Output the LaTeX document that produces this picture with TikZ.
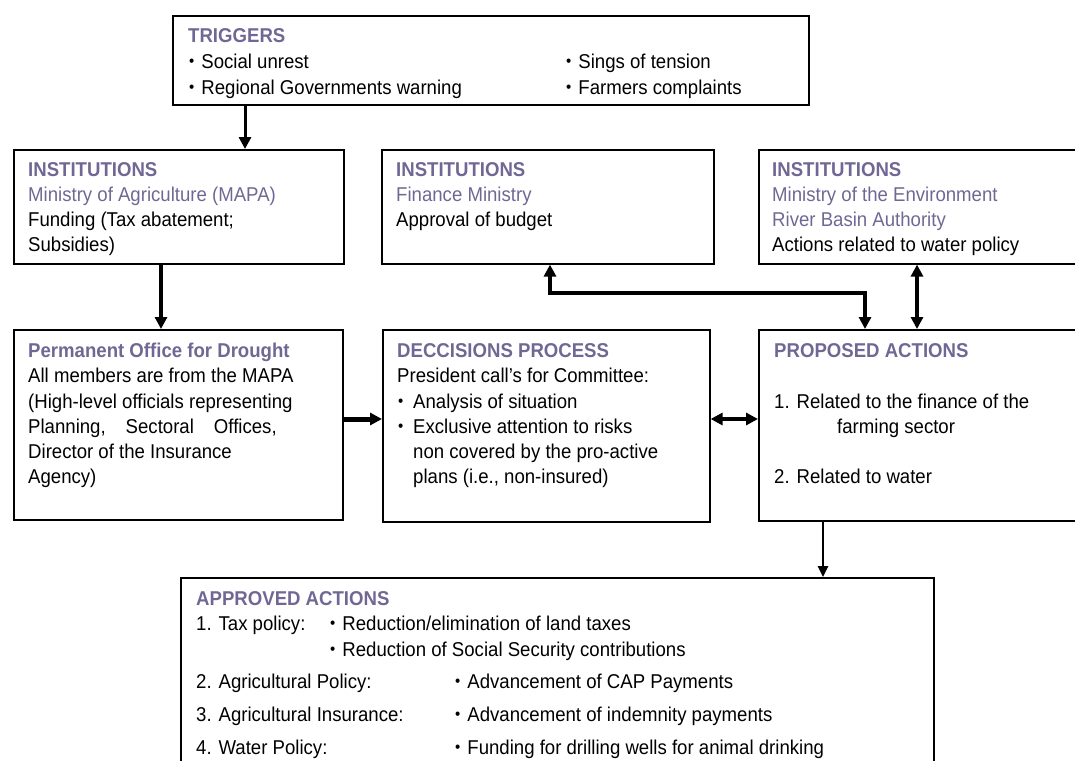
\documentclass[tikz,border=0pt]{standalone}
\usepackage{fontspec}
\setmainfont[FakeStretch=0.93]{Liberation Sans}
\usetikzlibrary{arrows.meta}
\definecolor{heading}{RGB}{113,103,148}
% small list bullet followed by its gap
\newcommand\bul{\raisebox{1.2pt}{\fontsize{16}{16}\selectfont •}\hspace{7pt}}
\begin{document}
\begin{tikzpicture}[x=1pt,y=-1pt,
  box/.style={draw=black, line width=1.6pt, anchor=north west, inner sep=0pt},
  txt/.style={anchor=base west, inner sep=0pt, font=\fontsize{20}{25}\selectfont},
  hd/.style={txt, text=heading, font=\fontsize{20}{25}\selectfont\bfseries},
  sub/.style={txt, text=heading},
  link/.style={line width=4pt, -{Triangle[length=12pt,width=12pt]}},
  twoway/.style={line width=4pt, {Triangle[length=12pt,width=12pt]}-{Triangle[length=12pt,width=12pt]}},
]
\useasboundingbox (0,0) rectangle (1075,760);
\clip (0,0) rectangle (1075,760);

% ---- boxes ----
\node[box, minimum width=636, minimum height=89]  (trig) at (172,15)  {};
\node[box, minimum width=330, minimum height=114] (mapa) at (13,149)  {};
\node[box, minimum width=332, minimum height=114] (fin)  at (381,149) {};
\node[box, minimum width=340, minimum height=114] (env)  at (758,149) {};
\node[box, minimum width=329, minimum height=190] (perm) at (13,329)  {};
\node[box, minimum width=327, minimum height=192] (dec)  at (382,329) {};
\node[box, minimum width=340, minimum height=191] (prop) at (758,329) {};
\node[box, minimum width=753, minimum height=200] (appr) at (180,577) {};

% ---- triggers ----
\node[hd]  (trig-h)  at (188,43) {TRIGGERS};
\node[txt] (trig-a)  at (189,68) {\bul Social unrest};
\node[txt] (trig-b)  at (189,94) {\bul Regional Governments warning};
\node[txt] (trig-c)  at (566,68) {\bul Sings of tension};
\node[txt] (trig-d)  at (566,94) {\bul Farmers complaints};

% ---- institutions ----
\node[hd]  (mapa-h) at (28,176)   {INSTITUTIONS};
\node[sub] (mapa-s) at (28,201)   {Ministry of Agriculture (MAPA)};
\node[txt] (mapa-a) at (28,226.5) {Funding (Tax abatement;};
\node[txt] (mapa-b) at (28,251.5) {Subsidies)};

\node[hd]  (fin-h) at (396,176)   {INSTITUTIONS};
\node[sub] (fin-s) at (396,201)   {Finance Ministry};
\node[txt] (fin-a) at (396,226.5) {Approval of budget};

\node[hd]  (env-h)  at (772,176)   {INSTITUTIONS};
\node[sub] (env-s1) at (772,201)   {Ministry of the Environment};
\node[sub] (env-s2) at (772,226.5) {River Basin Authority};
\node[txt] (env-a)  at (772,251.5) {Actions related to water policy};

% ---- permanent office ----
\node[hd]  (perm-h) at (28,357) {Permanent Office for Drought};
\node[txt] (perm-a) at (28,382) {All members are from the MAPA};
\node[txt] (perm-b) at (28,408) {(High-level officials representing};
\node[txt] (perm-c) at (28,433) {Planning,\quad Sectoral\quad Offices,};
\node[txt] (perm-d) at (28,458) {Director of the Insurance};
\node[txt] (perm-e) at (28,483) {Agency)};

% ---- decision process ----
\node[hd]  (dec-h)  at (397,357) {DECCISIONS PROCESS};
\node[txt] (dec-a)  at (397,382) {President call’s for Committee:};
\node[txt] (dec-b0) at (398,408) {\bul};
\node[txt] (dec-b)  at (413,408) {Analysis of situation};
\node[txt] (dec-c0) at (398,433) {\bul};
\node[txt] (dec-c)  at (413,433) {Exclusive attention to risks};
\node[txt] (dec-d)  at (413,458) {non covered by the pro-active};
\node[txt] (dec-e)  at (413,483) {plans (i.e., non-insured)};

% ---- proposed actions ----
\node[hd]  (prop-h) at (774,357) {PROPOSED ACTIONS};
\node[txt] (prop-a) at (774,408) {1. Related to the finance of the};
\node[txt] (prop-b) at (837,433) {farming sector};
\node[txt] (prop-c) at (774,483) {2. Related to water};

% ---- approved actions ----
\node[hd]  (appr-h)  at (196,605) {APPROVED ACTIONS};
\node[txt] (appr-1)  at (196,630) {1. Tax policy:};
\node[txt] (appr-1a) at (330,630) {\bul Reduction/elimination of land taxes};
\node[txt] (appr-1b) at (330,656) {\bul Reduction of Social Security contributions};
\node[txt] (appr-2)  at (196,688) {2. Agricultural Policy:};
\node[txt] (appr-2a) at (455,688) {\bul Advancement of CAP Payments};
\node[txt] (appr-3)  at (196,721) {3. Agricultural Insurance:};
\node[txt] (appr-3a) at (455,721) {\bul Advancement of indemnity payments};
\node[txt] (appr-4)  at (196,754) {4. Water Policy:};
\node[txt] (appr-4a) at (455,754) {\bul Funding for drilling wells for animal drinking};

% ---- connector guide lines ----
\coordinate (xa) at (245,0);
\coordinate (xb) at (161,0);
\coordinate (xc) at (550,0);
\coordinate (xd) at (865,0);
\coordinate (xe) at (917,0);
\coordinate (xf) at (823,0);
\coordinate (yr) at (0,419);
\coordinate (yh) at (0,293);

% ---- connectors ----
\draw[link, line width=3pt] (xa |- trig.south) -- (xa |- mapa.north);
\draw[link] (xb |- mapa.south) -- (xb |- perm.north);
\draw[link, line width=5pt] (perm.east |- yr) -- (dec.west |- yr);
\draw[twoway] (dec.east |- yr) -- (prop.west |- yr);
\draw[twoway] (xc |- fin.south) -- (xc |- yh) -- (xd |- yh) -- (xd |- prop.north);
\draw[twoway] (xe |- env.south) -- (xe |- prop.north);
\draw[line width=2.5pt, -{Triangle[length=11pt,width=10pt]}] (xf |- prop.south) -- (xf |- appr.north);
\end{tikzpicture}
\end{document}
